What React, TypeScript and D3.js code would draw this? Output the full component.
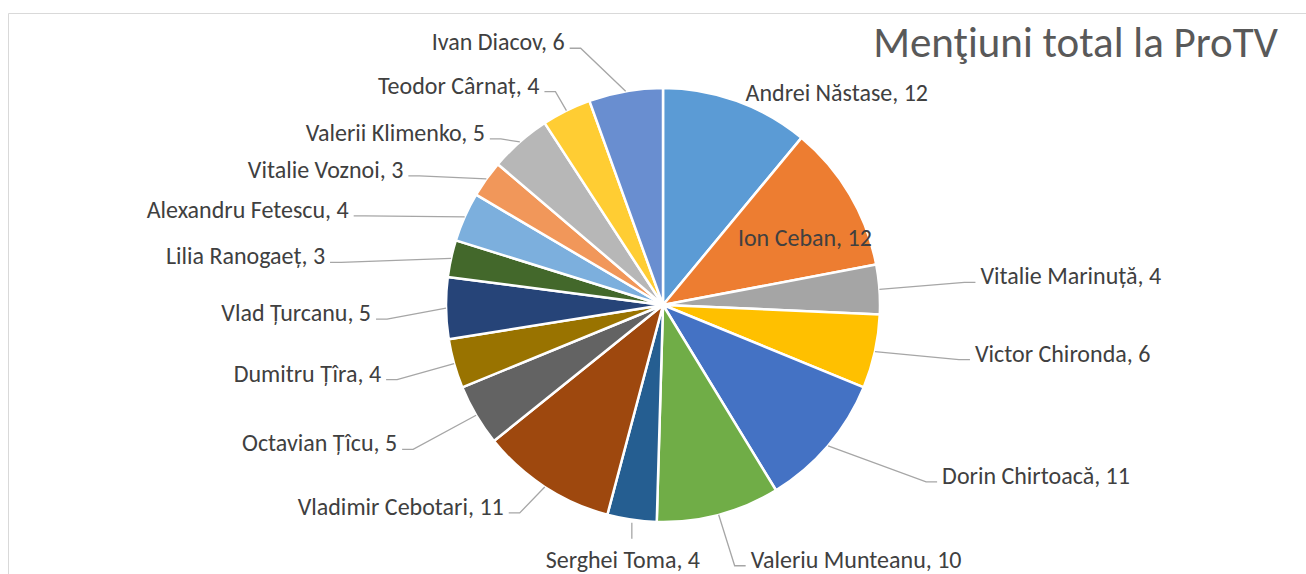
import React from "react";
import * as d3 from "d3";

const names = [
  "Andrei Năstase", "Ion Ceban", "Vitalie Marinuță", "Victor Chironda", "Dorin Chirtoacă",
  "Valeriu Munteanu", "Serghei Toma", "Vladimir Cebotari", "Octavian Țîcu", "Dumitru Țîra",
  "Vlad Țurcanu", "Lilia Ranogaeț", "Alexandru Fetescu", "Vitalie Voznoi", "Valerii Klimenko",
  "Teodor Cârnaț", "Ivan Diacov",
];
const values = [12, 12, 4, 6, 11, 10, 4, 11, 5, 4, 5, 3, 4, 3, 5, 4, 6];
const colors = [
  "#5B9BD5", "#ED7D31", "#A5A5A5", "#FFC000", "#4472C4", "#70AD47", "#255E91", "#9E480E",
  "#636363", "#997300", "#264478", "#43682B", "#7CAFDD", "#F1975A", "#B7B7B7", "#FFCD33", "#698ED0",
];
const title = "Menţiuni total la ProTV";

// label layout (annotation placement): offset of the label anchor from the slice's outer mid-point
// side: "L" = text to the left (anchor end), "R" = text to the right, "B" = below, "I" = inside
type Lay = { side: string; dx: number; dy: number; leader: boolean };
const labelLayout: Lay[] = [
  { side: "R", dx: 9, dy: 0, leader: false },
  { side: "I", dx: -45, dy: 51, leader: false },
  { side: "R", dx: 101, dy: -5, leader: true },
  { side: "R", dx: 100, dy: 10, leader: true },
  { side: "R", dx: 114, dy: 38, leader: true },
  { side: "R", dx: 32, dy: 53, leader: true },
  { side: "B", dx: -9, dy: 48, leader: true },
  { side: "L", dx: -41, dy: 28, leader: true },
  { side: "L", dx: -79, dy: 36, leader: true },
  { side: "L", dx: -73, dy: 18, leader: true },
  { side: "L", dx: -75, dy: 13, leader: true },
  { side: "L", dx: -126, dy: 6, leader: true },
  { side: "L", dx: -116, dy: 1, leader: true },
  { side: "L", dx: -83, dy: -1, leader: true },
  { side: "L", dx: -35, dy: -1, leader: true },
  { side: "L", dx: -27, dy: -17, leader: true },
  { side: "L", dx: -61, dy: -41, leader: true },
];

const W = 1306;
const H = 574;
const cx = 663;
const cy = 305;
const R = 217;
const FONT = "Carlito, Calibri, Lato, sans-serif";

export default function App() {
  const pie = d3.pie<number>().sort(null).value((d) => d)(values);
  const arc = d3.arc<d3.PieArcDatum<number>>().innerRadius(0).outerRadius(R);
  const line = d3.line();

  return (
    <svg
      width={W}
      height={H}
      style={{ position: "absolute", left: 0, top: 0, background: "#fff" }}
      fontFamily={FONT}
    >
      <path d={`M8.5,${H + 2} V13.5 H${W + 2}`} fill="none" stroke="#d9d9d9" strokeWidth={1} />
      <g transform={`translate(${cx},${cy})`}>
        {pie.map((p, i) => (
          <path key={i} d={arc(p) || ""} fill={colors[i]} stroke="#fff" strokeWidth={2.5} strokeLinejoin="round" />
        ))}
      </g>
      {pie.map((p, i) => {
        const mid = (p.startAngle + p.endAngle) / 2;
        const ex = cx + R * Math.sin(mid);
        const ey = cy - R * Math.cos(mid);
        const lay = labelLayout[i];
        const lx = ex + lay.dx;
        const ly = ey + lay.dy; // baseline
        const text = `${names[i]}, ${values[i]}`;
        let anchor: "start" | "end" | "middle" = "start";
        let pts: [number, number][] = [];
        if (lay.side === "L") {
          anchor = "end";
          const end: [number, number] = [lx + 5, ly - 2];
          pts = [[ex, ey], [end[0] + 11, end[1]], end];
        } else if (lay.side === "R") {
          anchor = "start";
          const end: [number, number] = [lx - 5, ly - 2];
          pts = [[ex, ey], [end[0] - 11, end[1]], end];
        } else if (lay.side === "B") {
          anchor = "middle";
          pts = [[ex, ey + 3], [ex, ly - 29]];
        } else {
          anchor = "middle";
        }
        return (
          <g key={i}>
            {lay.leader && (
              <path d={line(pts) || ""} fill="none" stroke="#a6a6a6" strokeWidth={1.3} />
            )}
            <text x={lx} y={ly} textAnchor={anchor} fontSize={24} fill="#404040">
              {text}
            </text>
          </g>
        );
      })}
      <text x={1278} y={57} textAnchor="end" fontSize={43} fill="#595959">
        {title}
      </text>
    </svg>
  );
}
